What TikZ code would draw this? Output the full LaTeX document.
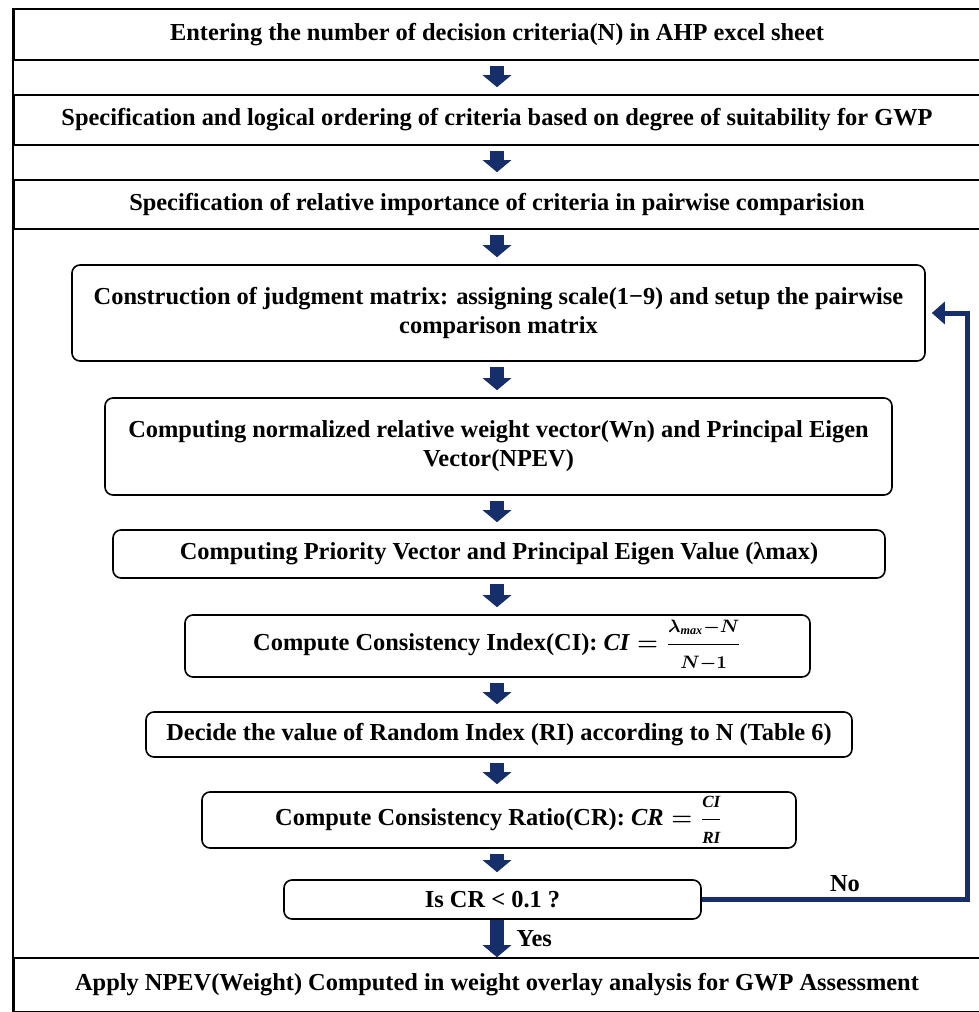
\documentclass[tikz,border=0pt]{standalone}
\usepackage{fontspec}
\usepackage{amsmath}
\setmainfont{Liberation Serif}
\usetikzlibrary{arrows.meta}
\definecolor{flownavy}{RGB}{22,46,105}

\begin{document}
\begin{tikzpicture}[
    x=0.5pt, y=-0.5pt,
    font=\fontsize{12.2}{14.5}\selectfont\bfseries\boldmath,
    wide box/.style={rectangle, draw, line width=0.8pt, minimum width=483pt, inner sep=0pt, align=center},
    step box/.style={rectangle, draw, line width=0.8pt, rounded corners=4pt, inner sep=0pt, align=center},
    flow arrow/.style={-{Triangle[width=14pt,length=6pt]}, line width=7pt, flownavy, shorten <=2.5pt, shorten >=3.5pt},
    loop back/.style={-{Triangle[width=11pt,length=6.5pt]}, line width=2.5pt, flownavy, shorten >=3pt}
]
\useasboundingbox (0,0) rectangle (979,1012);
\clip (0,0) rectangle (979,1012);

% Full width steps
\node[wide box, minimum height=25.5pt] (b1) at (497,34.5) {Entering the number of decision criteria(N) in AHP excel sheet};
\node[wide box, minimum height=25pt] (b2) at (497,120) {Specification and logical ordering of criteria based on degree of suitability for GWP};
\node[wide box, minimum height=24.5pt] (b3) at (497,204.5) {Specification of relative importance of criteria in pairwise comparision};

% Rounded steps
\node[step box, minimum width=426.5pt, minimum height=48pt] (b4) at (498.5,313) {Construction of judgment matrix: assigning scale(1−9) and setup the pairwise\\ comparison matrix};
\node[step box, minimum width=393.5pt, minimum height=48.5pt] (b5) at (498.5,446.5) {Computing normalized relative weight vector(Wn) and Principal Eigen\\ Vector(NPEV)};
\node[step box, minimum width=386pt, minimum height=24pt] (b6) at (499,554) {Computing Priority Vector and Principal Eigen Value (λmax)};
\node[step box, minimum width=312.5pt, minimum height=31pt] (b7) at (497.5,646) {Compute Consistency Index(CI): $\mathit{CI}=\dfrac{\scriptstyle\lambda_{\mathit{max}}-N}{\scriptstyle N-1}$};
\node[step box, minimum width=353pt, minimum height=22.5pt] (b8) at (499,734.5) {Decide the value of Random Index (RI) according to N (Table 6)};
\node[step box, minimum width=297pt, minimum height=28pt] (b9) at (499,820) {Compute Consistency Ratio(CR): $\mathit{CR}=\dfrac{\scriptstyle\mathit{CI}}{\scriptstyle\mathit{RI}}$};
\node[step box, minimum width=208.5pt, minimum height=19.5pt] (b10) at (492.5,899.5) {Is CR < 0.1 ?};

% Final step
\node[wide box, minimum height=27pt] (b11) at (497,985) {Apply NPEV(Weight) Computed in weight overlay analysis for GWP Assessment};

% Left frame
\draw[line width=0.8pt] (b1.north west) -- (b11.south west);

% Flow arrows
\coordinate (mid) at (497,0);
\draw[flow arrow] (b1.south -| mid) -- (b2.north -| mid);
\draw[flow arrow] (b2.south -| mid) -- (b3.north -| mid);
\draw[flow arrow] (b3.south -| mid) -- (b4.north -| mid);
\draw[flow arrow] (b4.south -| mid) -- (b5.north -| mid);
\draw[flow arrow] (b5.south -| mid) -- (b6.north -| mid);
\draw[flow arrow] (b6.south -| mid) -- (b7.north -| mid);
\draw[flow arrow] (b7.south -| mid) -- (b8.north -| mid);
\draw[flow arrow] (b8.south -| mid) -- (b9.north -| mid);
\draw[flow arrow] (b9.south -| mid) -- (b10.north -| mid);
\draw[flow arrow, shorten <=0pt, shorten >=0pt] (b10.south -| mid) -- (b11.north -| mid) node[midway, right=3pt, black] {Yes};

% Loop back when CR too large
\coordinate (loop) at (967,0);
\draw[loop back] (b10.east) -- (b10.east -| loop) -- (loop |- b4.east) -- (b4.east);
\node (no) at (845,884) {No};
\end{tikzpicture}
\end{document}
